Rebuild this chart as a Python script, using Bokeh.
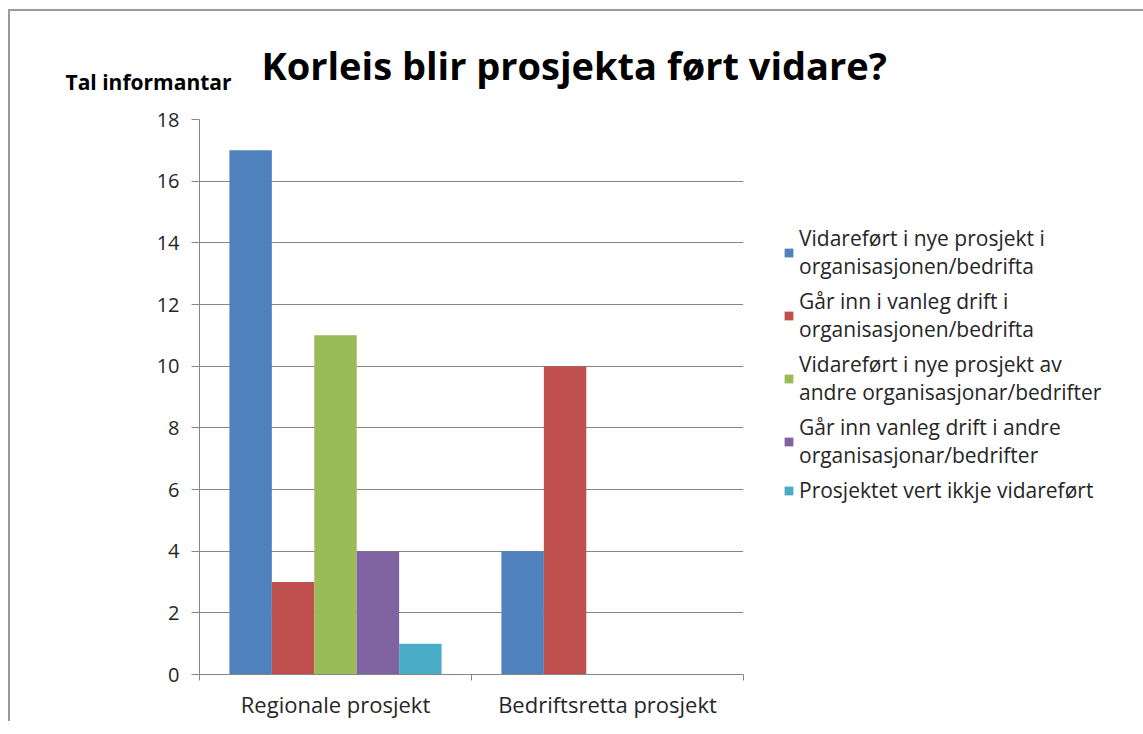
from bokeh.plotting import figure
from bokeh.models import (Range1d, FixedTicker, SingleIntervalTicker, Legend, LegendItem, Label)
from bokeh.embed import file_html
from bokeh.resources import INLINE

title_text = "Korleis blir prosjekta ført vidare?"
y_title_text = "Tal informantar"
categories = ["Regionale prosjekt", "Bedriftsretta prosjekt"]
series_names = [
    "Vidareført i nye prosjekt i\norganisasjonen/bedrifta",
    "Går inn i vanleg drift i\norganisasjonen/bedrifta",
    "Vidareført i nye prosjekt av\nandre organisasjonar/bedrifter",
    "Går inn vanleg drift i andre\norganisasjonar/bedrifter",
    "Prosjektet vert ikkje vidareført",
]
vidarefort_eigen = [17, 4]
drift_eigen = [3, 10]
vidarefort_andre = [11, 0]
drift_andre = [4, 0]
ikkje_vidarefort = [1, 0]
series_values = [vidarefort_eigen, drift_eigen, vidarefort_andre, drift_andre, ikkje_vidarefort]
colors = ["#4F81BD", "#C0504D", "#9BBB59", "#8064A2", "#4BACC6"]
y_ticks_interval = 2
y_max = 18

FONT = "Open Sans"
GRID = "#868686"
TEXT = "#262626"

p = figure(frame_width=544, frame_height=555, output_backend="svg", toolbar_location=None,
           x_range=Range1d(0, len(categories)), y_range=Range1d(0, y_max),
           min_border_left=189, min_border_top=108, min_border_bottom=45,
           min_border_right=390)
p.styles = {"border-top": "2px solid #9a9a9a", "border-left": "2px solid #9a9a9a",
            "margin-left": "8px", "margin-top": "9px"}
p.outline_line_color = None
p.background_fill_color = "white"
p.border_fill_color = "white"

main_title = Label(x=62, y=55, x_units="screen", y_units="screen",
                   text=title_text, text_font=FONT, text_font_size="38px",
                   text_font_style="bold", text_color="black",
                   text_baseline="alphabetic", text_align="left")
p.add_layout(main_title, "above")

y_title = Label(x=-134, y=-14, x_units="screen", y_units="screen",
                text=y_title_text, text_font=FONT, text_font_size="21px",
                text_font_style="bold", text_color="black",
                text_baseline="alphabetic", text_align="left")
p.add_layout(y_title, "above")

bw = 0.156
n = len(series_values)
items = []
for j, (vals, name, col) in enumerate(zip(series_values, series_names, colors)):
    xs = [i + 0.5 + (j - (n - 1) / 2) * bw for i in range(len(categories))]
    r = p.vbar(x=xs, top=vals, width=bw, fill_color=col, line_color=None)
    items.append(LegendItem(label=name, renderers=[r]))

# y axis
p.yaxis.ticker = SingleIntervalTicker(interval=y_ticks_interval)
p.yaxis.minor_tick_line_color = None
p.yaxis.major_tick_in = 0
p.yaxis.major_tick_out = 8
p.yaxis.major_tick_line_color = GRID
p.yaxis.axis_line_color = GRID
p.yaxis.major_label_text_font = FONT
p.yaxis.major_label_text_font_size = "20px"
p.yaxis.major_label_text_color = TEXT
p.yaxis.major_label_standoff = 12

# x axis
p.xaxis.ticker = FixedTicker(ticks=[i + 0.5 for i in range(len(categories))],
                             minor_ticks=list(range(len(categories) + 1)))
p.xaxis.major_label_overrides = {i + 0.5: c for i, c in enumerate(categories)}
p.xaxis.major_tick_in = 0
p.xaxis.major_tick_out = 0
p.xaxis.minor_tick_in = 0
p.xaxis.minor_tick_out = 6
p.xaxis.minor_tick_line_color = GRID
p.xaxis.axis_line_color = GRID
p.xaxis.major_label_text_font = FONT
p.xaxis.major_label_text_font_size = "22px"
p.xaxis.major_label_text_color = TEXT
p.xaxis.major_label_standoff = 8

p.xgrid.grid_line_color = None
p.ygrid.grid_line_color = GRID
p.ygrid.ticker = SingleIntervalTicker(interval=y_ticks_interval)

legend = Legend(items=items, location=(40, 170), padding=0, spacing=7,
                glyph_width=11, glyph_height=11, label_standoff=5,
                label_text_font=FONT, label_text_font_size="21px",
                label_text_color=TEXT, border_line_color=None,
                background_fill_alpha=0, margin=0)
p.add_layout(legend, "right")

open("out.html", "w").write(file_html(p, INLINE))
